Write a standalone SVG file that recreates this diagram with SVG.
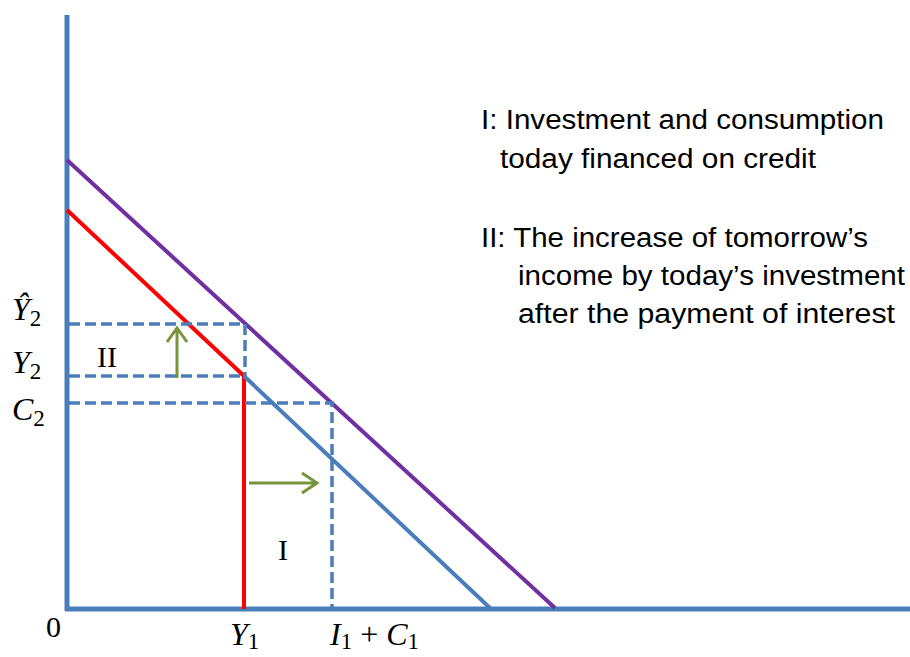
<svg xmlns="http://www.w3.org/2000/svg" width="910" height="657" viewBox="0 0 910 657">
<style>
.axis{stroke:#4a7ebb;stroke-width:5;fill:none}
.dash{stroke:#4a7ebb;stroke-width:3.5;stroke-dasharray:11,5;fill:none}
.grn{stroke:#77933c;stroke-width:3;fill:none}
.math{font-family:"Liberation Serif",serif;font-style:italic;font-size:32px;fill:#000}
.sub{font-style:normal;font-size:23px}
.rom{font-family:"Liberation Serif",serif;font-size:30px;fill:#000}
.note{font-family:"Liberation Sans",sans-serif;font-size:27px;fill:#000}
</style>
<g id="axes">
<line class="axis" x1="67" y1="15" x2="67" y2="611"/>
<line class="axis" x1="65" y1="609" x2="910" y2="609"/>
</g>
<g id="connectors">
<line x1="67" y1="160" x2="555" y2="608" stroke="#7030a0" stroke-width="4"/>
<line x1="67" y1="210" x2="244" y2="376" stroke="#ff0000" stroke-width="4"/>
<line x1="244" y1="376" x2="244" y2="609" stroke="#ff0000" stroke-width="4"/>
<line x1="244" y1="376" x2="490" y2="608" stroke="#4a7ebb" stroke-width="4"/>
<path class="dash" d="M69,324 H245 V376"/>
<path class="dash" d="M69,376 H244"/>
<path class="dash" d="M69,403 H332 V608"/>
<path class="grn" d="M177,378 V328 M167,342 L177,328 L187,342"/>
<path class="grn" d="M249,483 H317 M302,473 L317,483 L302,493"/>
</g>
<g id="labels">
<text class="math" x="12" y="320">Ŷ<tspan class="sub" dy="6">2</tspan></text>
<text class="math" x="12" y="373">Y<tspan class="sub" dy="6">2</tspan></text>
<text class="math" x="12" y="420">C<tspan class="sub" dy="6">2</tspan></text>
<text class="rom" x="97" y="367">II</text>
<text class="rom" x="278" y="560">I</text>
<text class="rom" x="46" y="637">0</text>
<text class="math" x="230" y="645">Y<tspan class="sub" dy="4">1</tspan></text>
<text class="math" x="330" y="645">I<tspan class="sub" dy="4">1</tspan><tspan dy="-4" font-style="normal"> + </tspan>C<tspan class="sub" dy="4">1</tspan></text>
</g>
<g id="notes">
<text class="note" x="481" y="129" textLength="403" lengthAdjust="spacingAndGlyphs">I: Investment and consumption</text>
<text class="note" x="500" y="168" textLength="316" lengthAdjust="spacingAndGlyphs">today financed on credit</text>
<text class="note" x="481" y="247" textLength="387" lengthAdjust="spacingAndGlyphs">II: The increase of tomorrow’s</text>
<text class="note" x="518" y="285" textLength="387" lengthAdjust="spacingAndGlyphs">income by today’s investment</text>
<text class="note" x="518" y="323" textLength="377" lengthAdjust="spacingAndGlyphs">after the payment of interest</text>
</g>
</svg>
